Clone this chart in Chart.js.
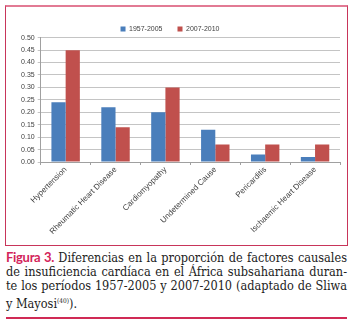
<!DOCTYPE html>
<html>
<head>
<meta charset="utf-8">
<script src="https://cdn.jsdelivr.net/npm/chart.js@4/dist/chart.umd.min.js"></script>
<style>
  html, body { margin: 0; padding: 0; background: #fff; }
  body { width: 353px; height: 324px; position: relative; overflow: hidden; }
  #frame {
    position: absolute; left: 5px; top: 5px; width: 341px; height: 238px;
    border: 1px solid #c8355a; border-top: 2px solid #e27a94;
  }
  #wrap { position: absolute; left: 0; top: 0; width: 353px; height: 244px; }
  #caption {
    position: absolute; left: 6px; top: 250px; width: 341px;
    font-family: "DejaVu Serif Condensed", "DejaVu Serif", serif; font-stretch: condensed;
    font-size: 12.6px; line-height: 14.2px; color: #222;
  }
  #caption .ln { text-align: justify; text-align-last: justify; white-space: nowrap; }
  #caption .ln.last { text-align-last: left; }
  #caption .fig { font-family: "Lato", "Open Sans", sans-serif; font-weight: bold; color: #d3245a; font-size: 13px; letter-spacing: -0.3px; font-stretch: normal; }
  #caption sup { font-size: 6.5px; vertical-align: 5px; }
  #rule { position: absolute; left: 6px; top: 317px; width: 341px; height: 2px; background: #d02a55; }
</style>
</head>
<body>
<div id="frame"></div>
<div id="wrap"><canvas id="c"></canvas></div>
<div id="caption">
  <div class="ln"><span class="fig">Figura 3.</span> Diferencias en la proporción de factores causales</div>
  <div class="ln">de insuficiencia cardíaca en el África subsahariana duran-</div>
  <div class="ln">te los períodos 1957-2005 y 2007-2010 (adaptado de Sliwa</div>
  <div class="ln last">y Mayosi<sup>(40)</sup>).</div>
</div>
<div id="rule"></div>
<script>
const categories = ["Hypertension", "Rheumatic Heart Disease", "Cardiomyopathy", "Undetermined Cause", "Pericarditis", "Ischaemic Heart Disease"];
const seriesNames = ["1957-2005", "2007-2010"];
const values1957 = [0.24, 0.22, 0.20, 0.13, 0.03, 0.02];
const values2007 = [0.45, 0.14, 0.30, 0.07, 0.07, 0.07];
const yTicks = [0, 0.05, 0.10, 0.15, 0.20, 0.25, 0.30, 0.35, 0.40, 0.45, 0.50];

const tickFont = { family: "'Liberation Sans', Arial, sans-serif", size: 7 };
const catFont = { family: "'Liberation Sans', Arial, sans-serif", size: 8 };
const textColor = "#404040";

// Nudge the legend row down so it sits closer to the plot area.
const legendNudge = {
  id: "legendNudge",
  afterLayout(chart) {
    if (chart.legend) { chart.legend.top += 4.8; chart.legend.bottom += 4.8; }
  }
};

new Chart(document.getElementById("c"), {
  type: "bar",
  data: {
    labels: categories,
    datasets: [
      { label: seriesNames[0], data: values1957, backgroundColor: "#4a7ebb" },
      { label: seriesNames[1], data: values2007, backgroundColor: "#c0504d" }
    ]
  },
  plugins: [legendNudge],
  options: {
    responsive: true,
    maintainAspectRatio: false,
    animation: false,
    devicePixelRatio: 1,
    layout: { padding: { top: 5.7, right: 13, bottom: 0, left: 0 } },
    datasets: { bar: { categoryPercentage: 0.57, barPercentage: 1.0 } },
    plugins: {
      legend: {
        position: "top",
        labels: { font: tickFont, color: textColor, boxWidth: 5, boxHeight: 5, padding: 15 }
      },
      tooltip: { enabled: false }
    },
    scales: {
      x: {
        grid: { display: true, drawOnChartArea: false, drawTicks: true, tickLength: 3, color: "#a0a0a0", offset: true },
        border: { color: "#a0a0a0" },
        ticks: { font: catFont, color: textColor, minRotation: 45, maxRotation: 45, padding: 0 },
        afterFit: (s) => { s.height = 82; }
      },
      y: {
        min: 0, max: 0.5,
        afterBuildTicks: (s) => { s.ticks = yTicks.map(v => ({ value: v })); },
        grid: { color: "#c4c4c4", tickLength: 3 },
        border: { display: true, color: "#a0a0a0" },
        ticks: { font: tickFont, color: textColor, padding: 3, callback: (v) => v.toFixed(2) },
        afterFit: (s) => { s.width = 40.7; }
      }
    }
  }
});
</script>
</body>
</html>
